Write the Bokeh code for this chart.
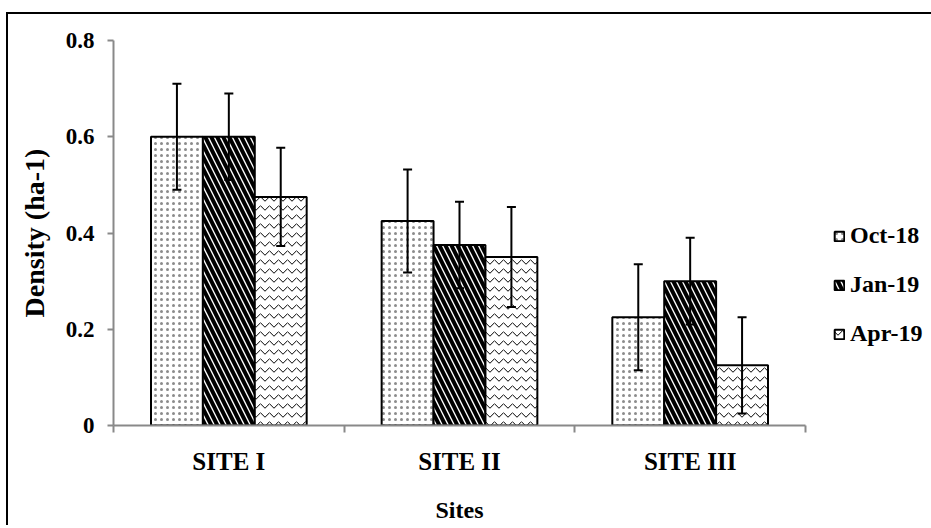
from bokeh.plotting import figure
from bokeh.models import (ColumnDataSource, Range1d, FixedTicker, Whisker, TeeHead,
                          Legend, LegendItem)
from bokeh.embed import file_html
from bokeh.resources import INLINE

sites = ["SITE I", "SITE II", "SITE III"]
series = ["Oct-18", "Jan-19", "Apr-19"]
oct18 = [0.60, 0.425, 0.225]
jan19 = [0.60, 0.375, 0.30]
apr19 = [0.475, 0.35, 0.125]
oct18_err = [0.11, 0.107, 0.11]
jan19_err = [0.09, 0.09, 0.09]
apr19_err = [0.102, 0.104, 0.10]
y_ticks = [0, 0.2, 0.4, 0.6, 0.8]
y_tick_labels = ["0", "0.2", "0.4", "0.6", "0.8"]

FONT = "Liberation Serif"
AXIS_COLOR = "#898989"

p = figure(frame_width=692, frame_height=385, output_backend="svg", toolbar_location=None,
           x_range=Range1d(0, 3), y_range=Range1d(0, 0.8),
           min_border_left=105, min_border_top=26, min_border_bottom=95, min_border_right=118)
p.styles = {"border-top": "2px solid black", "border-left": "2px solid black",
            "margin-top": "12px", "margin-left": "6px"}
p.outline_line_color = None
p.grid.visible = False
p.background_fill_color = "white"

values = [oct18, jan19, apr19]
errors = [oct18_err, jan19_err, apr19_err]
offsets = [-0.225, 0.0, 0.225]
hatches = [dict(hatch_pattern=".", hatch_scale=6, hatch_weight=0.5, hatch_alpha=0.45),
           dict(hatch_pattern="\\", hatch_scale=12, hatch_weight=4),
           dict(hatch_pattern="v", hatch_scale=9, hatch_weight=1)]

items = []
for name, vals, errs, off, h in zip(series, values, errors, offsets, hatches):
    xs = [i + 0.5 + off for i in range(len(sites))]
    src = ColumnDataSource(dict(x=xs, top=vals,
                                upper=[v + e for v, e in zip(vals, errs)],
                                lower=[v - e for v, e in zip(vals, errs)]))
    r = p.vbar(x="x", top="top", width=0.225, source=src, fill_color="white",
               line_color="black", line_width=2, hatch_color="black", **h)
    items.append(LegendItem(label=name, renderers=[r]))
    w = Whisker(base="x", upper="upper", lower="lower", source=src,
                line_color="black", line_width=2, level="overlay",
                upper_head=TeeHead(size=9, line_width=2, line_color="black"),
                lower_head=TeeHead(size=9, line_width=2, line_color="black"))
    p.add_layout(w)

# axes
p.xaxis.ticker = FixedTicker(ticks=[0.5, 1.5, 2.5], minor_ticks=[0, 1, 2, 3])
p.xaxis.major_label_overrides = {0.5: sites[0], 1.5: sites[1], 2.5: sites[2]}
p.xaxis.major_tick_out = 0
p.xaxis.major_tick_in = 0
p.xaxis.minor_tick_out = 7
p.xaxis.minor_tick_in = 0
p.xaxis.major_label_standoff = 15
p.xaxis.axis_label = "Sites"
p.xaxis.axis_label_standoff = 19

p.yaxis.ticker = FixedTicker(ticks=y_ticks, minor_ticks=[])
p.yaxis.major_label_overrides = {t: l for t, l in zip(y_ticks, y_tick_labels)}
p.yaxis.major_tick_out = 6
p.yaxis.major_tick_in = 0
p.yaxis.major_label_standoff = 13
p.yaxis.axis_label = "Density (ha-1)"
p.yaxis.axis_label_standoff = 13

for ax in [p.xaxis[0], p.yaxis[0]]:
    ax.axis_line_color = AXIS_COLOR
    ax.axis_line_width = 2
    ax.major_tick_line_color = AXIS_COLOR
    ax.major_tick_line_width = 2
    ax.minor_tick_line_color = AXIS_COLOR
    ax.minor_tick_line_width = 2
    ax.major_label_text_font = FONT
    ax.major_label_text_font_style = "bold"
    ax.major_label_text_font_size = "23px"
    ax.major_label_text_color = "black"
    ax.axis_label_text_font = FONT
    ax.axis_label_text_font_style = "bold"
    ax.axis_label_text_font_size = "24px"
    ax.axis_label_text_color = "black"
p.xaxis.major_label_text_font_size = "25px"
p.yaxis.axis_label_text_font_size = "28px"

legend = Legend(items=items, location=(28, 78), orientation="vertical",
                glyph_width=12, glyph_height=12, label_height=24, spacing=22,
                label_standoff=5, padding=0, margin=0, border_line_color=None,
                background_fill_alpha=0,
                label_text_font=FONT, label_text_font_style="bold",
                label_text_font_size="24px", label_text_color="black")
p.add_layout(legend, "right")

open("out.html", "w").write(file_html(p, INLINE))
